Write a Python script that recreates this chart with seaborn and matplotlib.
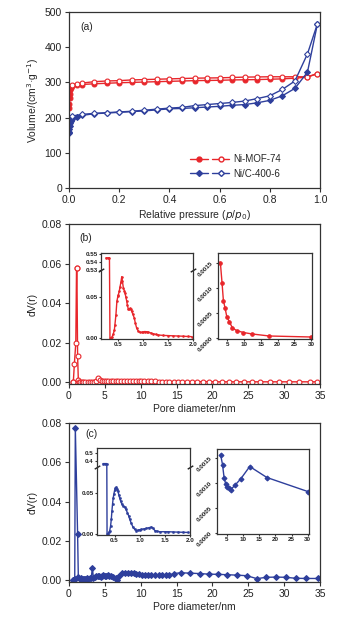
import numpy as np
import pandas as pd
import matplotlib
matplotlib.use("Agg")
import matplotlib.pyplot as plt
import seaborn as sns
from matplotlib.lines import Line2D
from matplotlib.legend_handler import HandlerTuple
from matplotlib.ticker import FixedLocator, FixedFormatter, FormatStrFormatter

sns.set_theme(style="ticks")
plt.rcParams['font.family'] = ['Liberation Sans', 'DejaVu Sans']

RED = "#e8262b"
BLUE = "#2e3f9c"

# ---------------- (a) isotherms ----------------
p_mof_ads = [0.0005, 0.001, 0.002, 0.003, 0.005, 0.008, 0.01, 0.03, 0.05, 0.1, 0.15, 0.2, 0.25, 0.3,
             0.35, 0.4, 0.45, 0.5, 0.55, 0.6, 0.65, 0.7, 0.75, 0.8, 0.85, 0.9, 0.95, 0.99]
v_mof_ads = [228, 240, 255, 268, 278, 285, 289, 292, 294, 296, 297.5, 299, 300, 301,
             302, 303, 304, 305, 305.5, 306, 307, 307.5, 308, 309, 310, 312, 315, 325]
p_mof_des = [0.99, 0.95, 0.9, 0.85, 0.8, 0.75, 0.7, 0.65, 0.6, 0.55, 0.5, 0.45, 0.4, 0.35,
             0.3, 0.25, 0.2, 0.15, 0.1, 0.05, 0.03, 0.01]
v_mof_des = [325, 316, 316, 316, 316, 315.5, 315, 314, 313, 312.5, 312, 311, 310, 309,
             308, 307, 305, 304, 302, 298, 296, 293]

p_nic_ads = [0.0002, 0.0005, 0.001, 0.002, 0.004, 0.007, 0.01, 0.03, 0.05, 0.1, 0.15, 0.2, 0.25, 0.3,
             0.35, 0.4, 0.45, 0.5, 0.55, 0.6, 0.65, 0.7, 0.75, 0.8, 0.85, 0.9, 0.95, 0.99]
v_nic_ads = [155, 160, 168, 176, 184, 191, 196, 202, 206, 211, 213, 215, 217, 219,
             222, 225, 226, 228, 230, 232, 235, 237, 242, 249, 262, 283, 329, 467]
p_nic_des = [0.99, 0.95, 0.9, 0.85, 0.8, 0.75, 0.7, 0.65, 0.6, 0.55, 0.5, 0.45, 0.4, 0.35,
             0.3, 0.25, 0.2, 0.15, 0.1, 0.05, 0.01]
v_nic_des = [467, 381, 304, 280, 262, 254, 247, 243, 240, 237, 234, 229, 227, 224,
             221, 218, 216, 214, 212, 209, 204]

# ---------------- (b) Ni-MOF-74 pore size ----------------
pore_b = [0.5, 0.6, 0.75, 0.95, 1.05, 1.1, 1.2, 1.3, 1.4, 1.6, 1.8, 2.0, 2.3, 2.6, 2.9, 3.2, 3.5, 3.8,
          4.0, 4.3, 4.6, 4.9, 5.2, 5.5, 5.8, 6.1, 6.5, 6.9, 7.3, 7.7, 8.1, 8.5, 8.9, 9.3, 9.7, 10.1,
          10.5, 11.0, 11.5, 12.0, 12.5, 13.0, 13.5, 14.0, 14.6, 15.2, 15.8, 16.5, 17.2, 17.9, 18.7,
          19.5, 20.4, 21.3, 22.3, 23.3, 24.4, 25.5, 26.7, 28.0, 29.3, 30.7, 32.1, 33.6, 34.6]
dv_b = [0.0, 0.0, 0.0093, 0.020, 0.058, 0.058, 0.0133, 0.0012, 0.0003, 0.0002, 0.0002, 0.0002, 0.0002,
        0.0002, 0.0002, 0.0002, 0.0003, 0.0005, 0.0020, 0.0012, 0.0008, 0.0007, 0.0006, 0.0005,
        0.0005, 0.0005, 0.0005, 0.0005, 0.0004, 0.0004, 0.0004, 0.0004, 0.0004, 0.0004, 0.0004,
        0.0004, 0.0004, 0.0004, 0.0004, 0.0004, 0.0003, 0.0003, 0.0003, 0.0003, 0.0003, 0.0003,
        0.0003, 0.0003, 0.0003, 0.0003, 0.0003, 0.0003, 0.0002, 0.0002, 0.0002, 0.0002, 0.0002,
        0.0002, 0.0002, 0.0002, 0.0002, 0.0002, 0.0002, 0.0002, 0.0002]

# inset b1 (micropores, broken axis)
b1_x = [0.25, 0.29, 0.32, 0.33, 0.35, 0.37, 0.40, 0.42, 0.43, 0.45, 0.47, 0.49, 0.50, 0.52, 0.53,
        0.55, 0.567, 0.58, 0.6, 0.62, 0.633, 0.65, 0.667, 0.68, 0.7, 0.72, 0.733, 0.75, 0.767, 0.79,
        0.82, 0.84, 0.867, 0.9, 0.93, 0.97, 1.0, 1.03, 1.07, 1.1, 1.15, 1.2, 1.25, 1.3, 1.4, 1.5,
        1.6, 1.7, 1.8, 1.9, 1.97]
b1_y = [0.545, 0.545, 0.545, 0.0, 0.0, 0.0005, 0.005, 0.010, 0.016, 0.028, 0.045, 0.051, 0.053,
        0.058, 0.062, 0.068, 0.075, 0.070, 0.061, 0.058, 0.055, 0.050, 0.045, 0.040, 0.035, 0.035,
        0.036, 0.035, 0.0325, 0.029, 0.024, 0.018, 0.0117, 0.008, 0.0067, 0.0065, 0.007, 0.0075,
        0.0072, 0.0067, 0.0058, 0.0048, 0.004, 0.0033, 0.0027, 0.0025, 0.0022, 0.002, 0.0017,
        0.0014, 0.0012]
# inset b2 (mesopores)
b2_x = [3.0, 3.5, 3.9, 4.4, 4.9, 5.7, 6.6, 7.8, 9.8, 12.5, 17.5, 30.0]
b2_y = [0.0015, 0.00109, 0.00074, 0.00059, 0.00042, 0.00031, 0.00019, 0.00014, 0.0001, 0.00007,
        0.00003, 0.00001]

# ---------------- (c) Ni/C-400-6 pore size ----------------
pore_c = [0.5, 0.6, 0.7, 0.8, 0.88, 1.2, 1.3, 1.5, 1.7, 1.9, 2.1, 2.3, 2.5, 2.7, 2.9, 3.1, 3.26,
          3.4, 3.6, 3.8, 4.0, 4.2, 4.4, 4.6, 4.8, 5.0, 5.2, 5.4, 5.6, 5.9, 6.2, 6.5, 6.75, 7.0,
          7.4, 7.8, 8.2, 8.6, 9.0, 9.4, 9.8, 10.2, 10.6, 11.0, 11.5, 12.0, 12.5, 13.0, 13.5, 14.0,
          14.6, 15.6, 16.9, 18.2, 19.5, 20.8, 22.1, 23.4, 24.8, 26.2, 27.5, 28.9, 30.2, 31.6,
          33.1, 34.7]
dv_c = [0.0, 0.0, 0.0, 0.0003, 0.0776, 0.0233, 0.0015, 0.0005, 0.0008, 0.0005, 0.0007, 0.0006,
        0.0008, 0.0006, 0.0009, 0.0012, 0.0060, 0.0012, 0.0018, 0.0022, 0.0020, 0.0023, 0.0018,
        0.0022, 0.0024, 0.0021, 0.0023, 0.0024, 0.0020, 0.0022, 0.0016, 0.0010, 0.0001, 0.0020,
        0.0035, 0.0036, 0.0035, 0.0035, 0.0035, 0.0033, 0.0032, 0.0027, 0.0026, 0.0025, 0.0025,
        0.0025, 0.0024, 0.0025, 0.0024, 0.0025, 0.0033, 0.0037, 0.0035, 0.0033, 0.0030, 0.0029,
        0.0027, 0.0025, 0.0022, 0.0007, 0.0014, 0.0015, 0.0014, 0.0009, 0.0008, 0.0008]

c1_x = [0.27, 0.31, 0.345, 0.35, 0.37, 0.39, 0.40, 0.42, 0.435, 0.447, 0.46, 0.473, 0.487, 0.5,
        0.517, 0.533, 0.55, 0.567, 0.583, 0.6, 0.62, 0.647, 0.67, 0.7, 0.725, 0.753, 0.78, 0.8,
        0.83, 0.867, 0.9, 0.933, 0.97, 1.0, 1.033, 1.08, 1.133, 1.18, 1.233, 1.26, 1.3, 1.35,
        1.4, 1.5, 1.57, 1.67, 1.77, 1.87, 1.97]
c1_y = [0.36, 0.36, 0.36, 0.0, 0.0, 0.002, 0.003, 0.0094, 0.018, 0.028, 0.037, 0.044, 0.049, 0.053,
        0.056, 0.057, 0.055, 0.052, 0.048, 0.044, 0.040, 0.036, 0.034, 0.033, 0.030, 0.026, 0.022,
        0.018, 0.013, 0.008, 0.0055, 0.004, 0.0045, 0.005, 0.0053, 0.006, 0.0066, 0.0074, 0.0082,
        0.007, 0.004, 0.003, 0.0025, 0.0025, 0.0025, 0.0022, 0.002, 0.0018, 0.0016]
c2_x = [3.1, 3.7, 4.2, 4.7, 5.2, 5.8, 6.3, 7.6, 9.3, 12.1, 17.4, 30.0]
c2_y = [0.00157, 0.00137, 0.0011, 0.00098, 0.00093, 0.0009, 0.00087, 0.00096, 0.00108, 0.00133,
        0.00111, 0.00083]

W, H = 349, 622
fig = plt.figure(figsize=(W / 100, H / 100), dpi=100)


def box(x0, y0, x1, y1):
    # pixel box -> figure fraction
    return [x0 / W, 1 - y1 / H, (x1 - x0) / W, (y1 - y0) / H]


def style(ax, size=7.5, length=3, pad=2):
    for s in ax.spines.values():
        s.set_linewidth(0.9)
        s.set_color("#333333")
    ax.tick_params(labelsize=size, length=length, width=0.8, pad=pad, colors="#333333",
                   labelcolor="#222222")


def line(ax, x, y, color, marker, ms, filled=True, lw=1.0, mew=0.8):
    sns.lineplot(x=x, y=y, ax=ax, sort=False, estimator=None, color=color, lw=lw,
                 marker=marker, markersize=ms, markeredgecolor=color, markeredgewidth=mew,
                 markerfacecolor=color if filled else "white")


# ---- panel a
ax = fig.add_axes(box(69, 12, 320, 188))
line(ax, p_mof_ads, v_mof_ads, RED, "o", 3.5)
line(ax, p_mof_des, v_mof_des, RED, "o", 3.5, filled=False)
line(ax, p_nic_ads, v_nic_ads, BLUE, "D", 3.0)
line(ax, p_nic_des, v_nic_des, BLUE, "D", 3.0, filled=False)
ax.set_xlim(0, 1.0)
ax.set_ylim(0, 500)
ax.set_xticks([0, 0.2, 0.4, 0.6, 0.8, 1.0])
ax.set_yticks([0, 100, 200, 300, 400, 500])
ax.set_xlabel("Relative pressure ($p$/$p_0$)", fontsize=7.5, labelpad=2)
ax.set_ylabel("Volume/(cm$^3$·g$^{-1}$)", fontsize=7.5, labelpad=3)
ax.text(0.045, 0.915, "(a)", transform=ax.transAxes, fontsize=7.5, va="center")
style(ax)


def pair(color, marker, ms):
    h1 = Line2D([], [], color=color, lw=1.0, marker=marker, ms=ms, mfc=color, mec=color)
    h2 = Line2D([], [], color=color, lw=1.0, marker=marker, ms=ms, mfc="white", mec=color)
    return (h1, h2)


ax.legend([pair(RED, "o", 3.5), pair(BLUE, "D", 3.0)], ["Ni-MOF-74", "Ni/C-400-6"],
          handler_map={tuple: HandlerTuple(ndivide=None, pad=0.4)}, loc="lower right",
          bbox_to_anchor=(0.86, 0.03), borderaxespad=0, frameon=False, fontsize=7,
          handlelength=4.0, handletextpad=0.4, labelspacing=0.45)

# ---- panel b
ax = fig.add_axes(box(69, 224, 320, 384))
line(ax, pore_b, dv_b, RED, "o", 3.5, filled=False)
ax.set_xlim(0, 35)
ax.set_ylim(-0.0009, 0.08)
ax.set_xticks(range(0, 36, 5))
ax.set_yticks([0, 0.02, 0.04, 0.06, 0.08])
ax.yaxis.set_major_formatter(FormatStrFormatter("%.2f"))
ax.set_xlabel("Pore diameter/nm", fontsize=7.5, labelpad=2)
ax.set_ylabel("dV(r)", fontsize=7.5, labelpad=3)
ax.text(0.04, 0.91, "(b)", transform=ax.transAxes, fontsize=7.5, va="center")
style(ax)

# ---- panel c
ax = fig.add_axes(box(69, 423, 320, 582))
line(ax, pore_c, dv_c, BLUE, "D", 3.0)
ax.set_xlim(0, 35)
ax.set_ylim(-0.001, 0.08)
ax.set_xticks(range(0, 36, 5))
ax.set_yticks([0, 0.02, 0.04, 0.06, 0.08])
ax.yaxis.set_major_formatter(FormatStrFormatter("%.2f"))
ax.set_xlabel("Pore diameter/nm", fontsize=7.5, labelpad=2)
ax.set_ylabel("dV(r)", fontsize=7.5, labelpad=3)
ax.text(0.065, 0.93, "(c)", transform=ax.transAxes, fontsize=7.5, va="center")
style(ax)


def add_break(ax, yb):
    ax.plot([0, 1], [yb, yb], transform=ax.get_yaxis_transform(), ls="none",
            marker=[(-1, -0.6), (1, 0.6)], ms=4, mew=1.0, color="#222222", clip_on=False)


def inset_style(ax):
    style(ax, size=4.5, length=1.5, pad=1)
    for lab in ax.get_xticklabels() + ax.get_yticklabels():
        lab.set_fontweight("bold")


# ---- inset b1, broken y axis 0-0.083 | 0.53-0.55
B1_LOW, B1_HIGH = 0.0833, 0.53
fwd1 = lambda y: np.where(y > 0.3, np.asarray(y) - (B1_HIGH - B1_LOW), np.minimum(y, B1_LOW))
inv1 = lambda t: np.where(t > B1_LOW, np.asarray(t) + (B1_HIGH - B1_LOW), t)
ax = fig.add_axes(box(101, 253, 193, 339))
ax.set_yscale("function", functions=(fwd1, inv1))
line(ax, b1_x, b1_y, RED, "o", 1.4, lw=1.0, mew=0.4)
ax.set_xlim(0.15, 2.0)
ax.set_ylim(-0.0017, 0.551)
ax.set_xticks([0.5, 1.0, 1.5, 2.0])
ax.yaxis.set_major_locator(FixedLocator([0.0, 0.05, 0.53, 0.54, 0.55]))
ax.yaxis.set_major_formatter(FixedFormatter(["0.00", "0.05", "0.53", "0.54", "0.55"]))
ax.yaxis.set_minor_locator(FixedLocator([]))
add_break(ax, 0.53)
inset_style(ax)

# ---- inset b2
ax = fig.add_axes(box(218, 253, 312, 339))
line(ax, b2_x, b2_y, RED, "o", 2.5, lw=1.0)
ax.set_xlim(2.3, 30.2)
ax.set_ylim(-0.00003, 0.00169)
ax.set_xticks([5, 10, 15, 20, 25, 30])
ax.set_yticks([0, 0.0005, 0.001, 0.0015])
ax.yaxis.set_major_formatter(FormatStrFormatter("%.4f"))
inset_style(ax)
ax.tick_params(axis="y", labelrotation=45)

# ---- inset c1, broken y axis 0-0.082 | 0.318-0.57 (compressed)
C1_LOW, C1_HIGH, C1_K = 0.082, 0.318, 11.0
fwd2 = lambda y: np.where(y > 0.2, C1_LOW + (np.asarray(y) - C1_HIGH) / C1_K, np.minimum(y, C1_LOW))
inv2 = lambda t: np.where(t > C1_LOW, C1_HIGH + (np.asarray(t) - C1_LOW) * C1_K, t)
ax = fig.add_axes(box(97, 448, 190, 535))
ax.set_yscale("function", functions=(fwd2, inv2))
line(ax, c1_x, c1_y, BLUE, "o", 1.5, lw=1.0, mew=0.4)
ax.set_xlim(0.15, 2.0)
ax.set_ylim(-0.0015, 0.57)
ax.set_xticks([0.5, 1.0, 1.5, 2.0])
ax.yaxis.set_major_locator(FixedLocator([0.0, 0.05, 0.4, 0.5]))
ax.yaxis.set_major_formatter(FixedFormatter(["0.00", "0.05", "0.4", "0.5"]))
ax.yaxis.set_minor_locator(FixedLocator([]))
add_break(ax, C1_HIGH)
inset_style(ax)

# ---- inset c2
ax = fig.add_axes(box(217, 449, 309, 534))
line(ax, c2_x, c2_y, BLUE, "D", 2.5, lw=1.0)
ax.set_xlim(2.0, 30.4)
ax.set_ylim(-0.00002, 0.00168)
ax.set_xticks([5, 10, 15, 20, 25, 30])
ax.set_yticks([0, 0.0005, 0.001, 0.0015])
ax.yaxis.set_major_formatter(FormatStrFormatter("%.4f"))
inset_style(ax)
ax.tick_params(axis="y", labelrotation=45)

fig.savefig("out.png", dpi=100)
